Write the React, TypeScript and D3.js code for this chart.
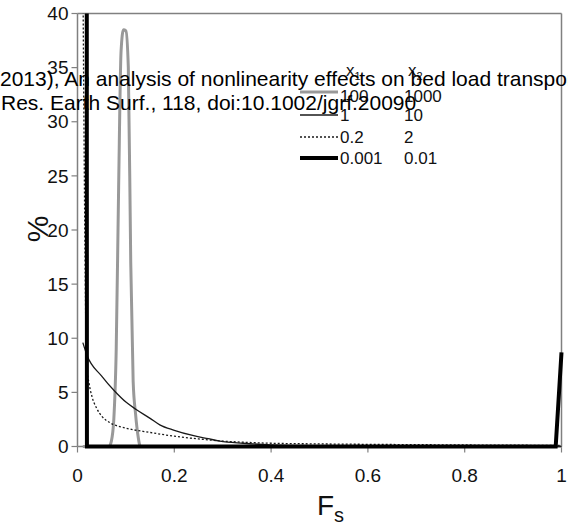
import React from "react";
import * as d3 from "d3";

// Data (F_s fraction vs %)
const greyF = [0.011, 0.065, 0.07, 0.075, 0.08, 0.085, 0.09, 0.095, 0.1, 0.105, 0.11, 0.115, 0.12, 0.125, 0.13, 0.3, 0.6, 1.0];
const greyV = [0, 0, 0.5, 2.5, 9, 24, 36.5, 38.5, 38.4, 35, 17, 6, 3, 1, 0, 0, 0, 0];

const solidF = [0.011, 0.019, 0.05, 0.077, 0.1, 0.122, 0.15, 0.17, 0.2, 0.24, 0.27, 0.294, 0.342, 0.4, 0.5, 0.6, 0.8, 1.0];
const solidV = [9.6, 8.5, 6.5, 5.1, 4.1, 3.4, 2.6, 2.0, 1.5, 1.0, 0.72, 0.5, 0.3, 0.15, 0.07, 0.04, 0.02, 0.01];

const dotF = [0.011, 0.019, 0.024, 0.03, 0.04, 0.05, 0.067, 0.1, 0.15, 0.2, 0.25, 0.3, 0.35, 0.4, 0.5, 0.6, 0.7, 0.8, 0.9, 1.0];
const dotV = [45, 7.5, 5.8, 4.6, 3.5, 2.8, 2.2, 1.7, 1.3, 0.95, 0.7, 0.5, 0.38, 0.3, 0.24, 0.2, 0.17, 0.14, 0.12, 0.1];

const thickF = [0.019, 0.0195, 0.988, 1.0];
const thickV = [60, 0, 0, 8.7];

const xTicks = [0, 0.2, 0.4, 0.6, 0.8, 1];
const xTickLabels = ["0", "0.2", "0.4", "0.6", "0.8", "1"];
const yTicks = [0, 5, 10, 15, 20, 25, 30, 35, 40];

const legendX1 = ["100", "1", "0.2", "0.001"];
const legendX2 = ["1000", "10", "2", "0.01"];

const citeLine1 = "(2013), An analysis of nonlinearity effects on bed load transport";
const citeLine2 = "Res. Earth Surf., 118, doi:10.1002/jgrf.20090";

const W = 568, H = 526;
const L = 77.5, R = 561.5, T = 13.5, B = 446.5;
const FONT = "'Liberation Sans', Arial, Helvetica, sans-serif";

export default function App() {
  const x = d3.scaleLinear().domain([0, 1]).range([L, R]);
  const y = d3.scaleLinear().domain([0, 40]).range([B, T]);

  const mk = (F: number[], V: number[], curve: any) =>
    d3.line<number>().x((_, i) => x(F[i])).y((v) => y(v)).curve(curve)(V) || "";

  const greyPath = mk(greyF, greyV, d3.curveMonotoneX);
  const solidPath = mk(solidF, solidV, d3.curveMonotoneX);
  const dotPath = mk(dotF, dotV, d3.curveMonotoneX);
  const thickPath = mk(thickF, thickV, d3.curveLinear);

  const axisCol = "#808080";
  const styles = [
    { stroke: "#999999", sw: 3, dash: undefined as string | undefined },
    { stroke: "#1a1a1a", sw: 1.3, dash: undefined },
    { stroke: "#1a1a1a", sw: 1.3, dash: "2,2" },
    { stroke: "#000000", sw: 4, dash: undefined },
  ];
  const legRowY = [92, 115, 137, 158];

  return (
    <svg width={W} height={H} style={{ position: "absolute", left: 0, top: 0 }} fontFamily={FONT}>
      <rect width={W} height={H} fill="#fff" />
      <defs>
        <clipPath id="plotclip">
          <rect x={L} y={T} width={R - L + 3} height={B - T + 3} />
        </clipPath>
      </defs>
      {/* frame */}
      <line x1={L} x2={R} y1={T} y2={T} stroke={axisCol} strokeWidth={1.5} />
      <line x1={R} x2={R} y1={T} y2={B} stroke={axisCol} strokeWidth={1.5} />
      <line x1={L} x2={L} y1={T} y2={B} stroke={axisCol} strokeWidth={1.5} />
      <line x1={L} x2={R} y1={B} y2={B} stroke={axisCol} strokeWidth={1.5} />
      {/* y ticks */}
      {yTicks.map((t) => (
        <g key={"y" + t}>
          <line x1={L - 6} x2={L} y1={y(t)} y2={y(t)} stroke={axisCol} strokeWidth={1.2} />
          <text x={L - 9} y={y(t)} dy="0.35em" textAnchor="end" fontSize={19} fill="#111">{t}</text>
        </g>
      ))}
      {/* x ticks */}
      {xTicks.map((t, i) => (
        <g key={"x" + t}>
          <line x1={x(t)} x2={x(t)} y1={B} y2={B + 6} stroke={axisCol} strokeWidth={1.2} />
          <text x={x(t)} y={B + 29} dy="0.35em" textAnchor="middle" fontSize={19} fill="#111">{xTickLabels[i]}</text>
        </g>
      ))}
      {/* series */}
      <g clipPath="url(#plotclip)" fill="none">
        <path d={greyPath} stroke={styles[0].stroke} strokeWidth={styles[0].sw} strokeLinejoin="round" />
        <path d={solidPath} stroke={styles[1].stroke} strokeWidth={styles[1].sw} />
        <path d={dotPath} stroke={styles[2].stroke} strokeWidth={styles[2].sw} strokeDasharray={styles[2].dash} />
        <path d={thickPath} stroke={styles[3].stroke} strokeWidth={styles[3].sw} strokeLinejoin="miter" />
      </g>
      {/* axis titles */}
      <text x={317} y={515} fontSize={28} fill="#111">F<tspan fontSize={20} dy={7}>s</tspan></text>
      <text transform={`translate(48,229) rotate(-90)`} textAnchor="middle" fontSize={30} fill="#111">%</text>
      {/* legend */}
      <text x={346} y={76} fontSize={17} fill="#111">x<tspan fontSize={11} dy={4}>1</tspan></text>
      <text x={408} y={76} fontSize={17} fill="#111">x<tspan fontSize={11} dy={4}>2</tspan></text>
      {legendX1.map((lab, i) => (
        <g key={"lg" + i}>
          <line x1={300} x2={338} y1={legRowY[i]} y2={legRowY[i]} stroke={styles[i].stroke} strokeWidth={styles[i].sw} strokeDasharray={styles[i].dash} />
          <text x={340} y={legRowY[i]} dy={i === 0 ? "0.6em" : "0.35em"} fontSize={17} fill="#111">{lab}</text>
          <text x={404} y={legRowY[i]} dy={i === 0 ? "0.6em" : "0.35em"} fontSize={17} fill="#111">{legendX2[i]}</text>
        </g>
      ))}
      {/* citation overlay */}
      <text x={-7} y={86} fontSize={21} fill="#000">{citeLine1}</text>
      <text x={1} y={110} fontSize={21} fill="#000">{citeLine2}</text>
    </svg>
  );
}
